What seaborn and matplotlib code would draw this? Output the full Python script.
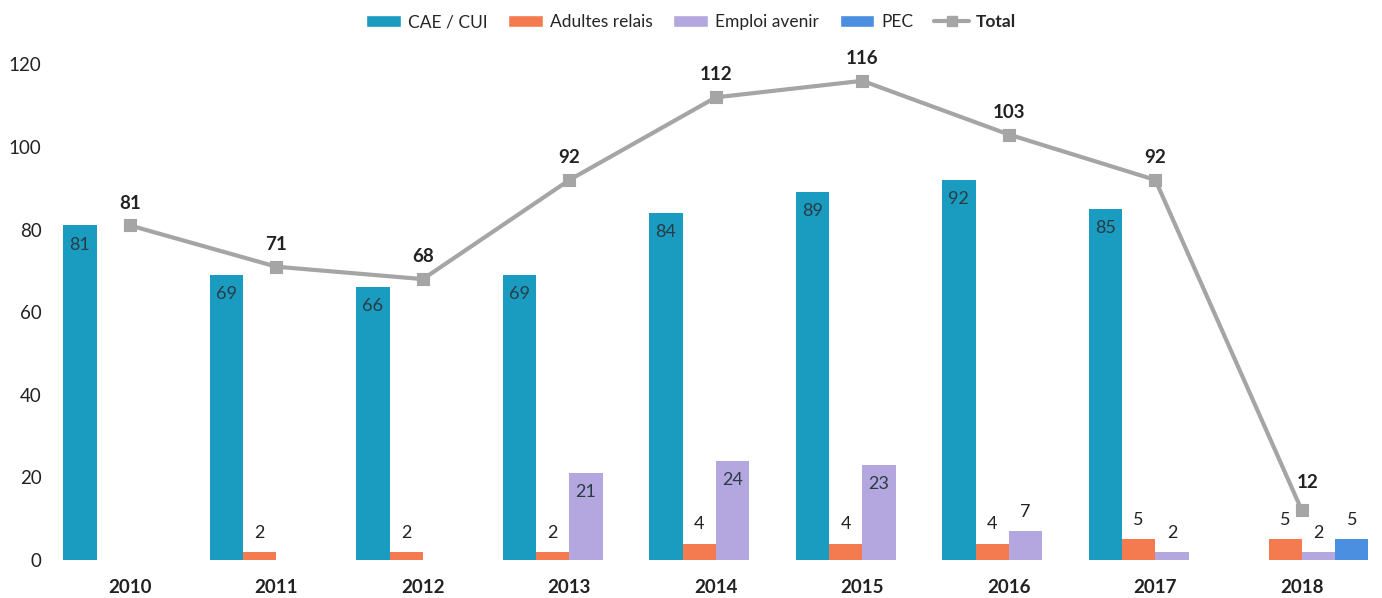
import numpy as np
import pandas as pd
import matplotlib.pyplot as plt
import seaborn as sns
from matplotlib.patches import Patch
from matplotlib.lines import Line2D

annees = ["2010", "2011", "2012", "2013", "2014", "2015", "2016", "2017", "2018"]
cae_cui = [81, 69, 66, 69, 84, 89, 92, 85, 0]
adultes_relais = [0, 2, 2, 2, 4, 4, 4, 5, 5]
emploi_avenir = [0, 0, 0, 21, 24, 23, 7, 2, 2]
pec = [0, 0, 0, 0, 0, 0, 0, 0, 5]
total = [81, 71, 68, 92, 112, 116, 103, 92, 12]

series = ["CAE / CUI", "Adultes relais", "Emploi avenir", "PEC"]
couleurs = ["#1a9bc0", "#f47b4f", "#b4a7e0", "#4a8fe0"]
gris = "#a5a5a5"

df = pd.DataFrame(
    {
        "Année": annees * 4,
        "Série": np.repeat(series, len(annees)),
        "Valeur": cae_cui + adultes_relais + emploi_avenir + pec,
    }
)

sns.set_theme(style="white")
plt.rcParams["font.family"] = ["Lato", "DejaVu Sans"]

fig = plt.figure(figsize=(13.82, 5.98), dpi=100)
ax = fig.add_axes([0.041, 0.0635, 0.954, 0.829])

sns.barplot(
    data=df,
    x="Année",
    y="Valeur",
    hue="Série",
    order=annees,
    hue_order=series,
    palette=couleurs,
    width=0.91,
    gap=0,
    saturation=1,
    linewidth=0,
    legend=False,
    ax=ax,
)

sns.pointplot(
    x=annees,
    y=total,
    order=annees,
    color=gris,
    markers="s",
    linestyles="-",
    markersize=7,
    linewidth=3,
    ax=ax,
)

# étiquettes des barres
for cont, nom in zip(ax.containers, series):
    for rect in cont:
        h = rect.get_height()
        if not h or h <= 0:
            continue
        xc = rect.get_x() + rect.get_width() / 2
        if nom == "CAE / CUI" or (nom == "Emploi avenir" and h >= 15):
            ax.annotate(f"{h:.0f}", (xc, h), xytext=(0, -8), textcoords="offset points",
                        ha="center", va="top", fontsize=13, color="#2b3b44")
        else:
            ax.annotate(f"{h:.0f}", (xc, h), xytext=(0, 8), textcoords="offset points",
                        ha="center", va="bottom", fontsize=13, color="#222222")

# étiquettes du total
for i, t in enumerate(total):
    dx = 4 if i == len(total) - 1 else 0
    dy = 14 if i == len(total) - 1 else 10
    ax.annotate(str(t), (i, t), xytext=(dx, dy), textcoords="offset points",
                ha="center", va="bottom", fontsize=13.5, fontweight="bold",
                color="#222222", annotation_clip=False)

ax.set_ylim(0, 120)
ax.set_xlim(-0.5, 8.5)
ax.set_yticks(np.arange(0, 121, 20))
ax.set_xlabel("")
ax.set_ylabel("")
ax.tick_params(axis="y", labelsize=13.5, colors="#222222", pad=11, length=0)
ax.tick_params(axis="x", labelsize=13.5, colors="#222222", pad=14, length=0)
for lab in ax.get_xticklabels():
    lab.set_fontweight("bold")
sns.despine(ax=ax, left=True, bottom=True, top=True, right=True)

handles = [Patch(facecolor=c, label=s) for c, s in zip(couleurs, series)]
handles.append(Line2D([], [], color=gris, marker="s", markersize=7, linewidth=3, label="Total"))
leg = fig.legend(handles=handles, loc="center", bbox_to_anchor=(0.5, 0.963), ncol=5,
                 frameon=False, fontsize=12.5, handlelength=2.0, handleheight=0.7,
                 columnspacing=1.2, handletextpad=0.4)
leg.get_texts()[-1].set_fontweight("bold")

fig.savefig("out.png", dpi=100)
